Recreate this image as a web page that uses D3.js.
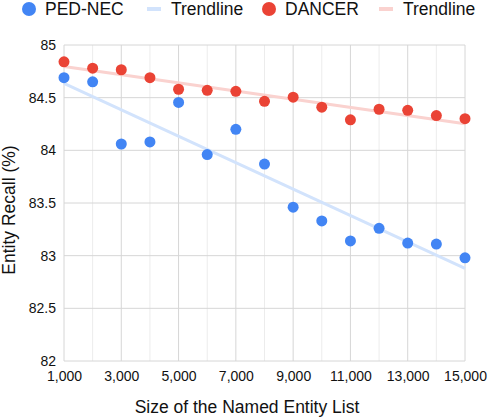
<!DOCTYPE html>
<html>
<head>
<meta charset="utf-8">
<script src="https://cdn.jsdelivr.net/npm/d3@7"></script>
<style>
  body { margin: 0; background: #fff; }
  svg { display: block; font-family: "Liberation Sans", Arial, Helvetica, sans-serif; }
</style>
</head>
<body>
<div id="chart"></div>
<script>
const sizes = [1000, 2000, 3000, 4000, 5000, 6000, 7000, 8000, 9000, 10000, 11000, 12000, 13000, 14000, 15000];
const pedNec = [84.69, 84.65, 84.06, 84.08, 84.455, 83.96, 84.2, 83.87, 83.46, 83.33, 83.14, 83.26, 83.12, 83.11, 82.98];
const dancer = [84.84, 84.78, 84.765, 84.69, 84.58, 84.57, 84.56, 84.465, 84.505, 84.41, 84.29, 84.39, 84.38, 84.33, 84.30];
const yTicks = [82, 82.5, 83, 83.5, 84, 84.5, 85];
const xTicks = [1000, 3000, 5000, 7000, 9000, 11000, 13000, 15000];

const W = 488, H = 420;
const margin = { top: 45, right: 23, bottom: 59, left: 64 };
const width = W - margin.left - margin.right;
const height = H - margin.top - margin.bottom;
const ink = "#111";

const series = [
  { name: "PED-NEC", values: pedNec, color: "#4285f4", trend: "#d2e3fc" },
  { name: "DANCER", values: dancer, color: "#ea4335", trend: "#fad2cf" }
];

const svg = d3.select("#chart")
  .append("svg")
  .attr("width", W)
  .attr("height", H);

const g = svg.append("g")
  .attr("transform", `translate(${margin.left},${margin.top})`);

const x = d3.scaleLinear().domain([1000, 15000]).range([0, width]);
const y = d3.scaleLinear().domain([82, 85]).range([height, 0]);

// gridlines: every 1000 on x (labelled ones darker), every 0.5 on y
g.append("g")
  .selectAll("line")
  .data(d3.range(2000, 15000, 2000))
  .join("line")
  .attr("x1", d => x(d)).attr("x2", d => x(d))
  .attr("y1", 0).attr("y2", height)
  .attr("stroke", "#ececec");

g.append("g")
  .selectAll("line")
  .data(xTicks)
  .join("line")
  .attr("x1", d => x(d)).attr("x2", d => x(d))
  .attr("y1", 0).attr("y2", height)
  .attr("stroke", "#d6d6d6");

g.append("g")
  .selectAll("line")
  .data(yTicks)
  .join("line")
  .attr("x1", 0).attr("x2", width)
  .attr("y1", d => y(d)).attr("y2", d => y(d))
  .attr("stroke", "#d6d6d6");

// axes (text only)
const xAxis = g.append("g")
  .attr("transform", `translate(0,${height})`)
  .call(d3.axisBottom(x).tickValues(xTicks).tickFormat(d3.format(",")).tickSize(0).tickPadding(10));
const yAxis = g.append("g")
  .call(d3.axisLeft(y).tickValues(yTicks).tickFormat(d3.format("")).tickSize(0).tickPadding(8));
[xAxis, yAxis].forEach(a => {
  a.attr("font-family", null);
  a.select(".domain").remove();
  a.selectAll("text").attr("font-size", 14).attr("fill", ink);
});

// linear trendlines (least squares on the plotted points)
function fit(vals) {
  const mx = d3.mean(sizes), my = d3.mean(vals);
  const b = d3.sum(sizes, (s, i) => (s - mx) * (vals[i] - my)) / d3.sum(sizes, s => (s - mx) ** 2);
  return s => my + b * (s - mx);
}

series.forEach(s => {
  const f = fit(s.values);
  g.append("line")
    .attr("x1", x(1000)).attr("y1", y(f(1000)))
    .attr("x2", x(15000)).attr("y2", y(f(15000)))
    .attr("stroke", s.trend)
    .attr("stroke-width", 3);
});

series.forEach(s => {
  g.append("g")
    .selectAll("circle")
    .data(s.values)
    .join("circle")
    .attr("cx", (d, i) => x(sizes[i]))
    .attr("cy", d => y(d))
    .attr("r", 5.5)
    .attr("fill", s.color);
});

// axis titles
svg.append("text")
  .attr("x", 247)
  .attr("y", 413)
  .attr("text-anchor", "middle")
  .attr("font-size", 17.5)
  .attr("fill", ink)
  .text("Size of the Named Entity List");

svg.append("text")
  .attr("transform", "translate(15,210) rotate(-90)")
  .attr("text-anchor", "middle")
  .attr("font-size", 17.5)
  .attr("fill", ink)
  .text("Entity Recall (%)");

// legend
const legend = [
  { label: "PED-NEC", color: "#4285f4", type: "dot", x: 29 },
  { label: "Trendline", color: "#d2e3fc", type: "line", x: 147 },
  { label: "DANCER", color: "#ea4335", type: "dot", x: 269 },
  { label: "Trendline", color: "#fad2cf", type: "line", x: 379 }
];
const lg = svg.append("g");
legend.forEach(l => {
  if (l.type === "dot") {
    lg.append("circle").attr("cx", l.x).attr("cy", 9).attr("r", 7).attr("fill", l.color);
  } else {
    lg.append("line").attr("x1", l.x).attr("x2", l.x + 14).attr("y1", 9).attr("y2", 9)
      .attr("stroke", l.color).attr("stroke-width", 4);
  }
  lg.append("text")
    .attr("x", l.type === "dot" ? l.x + 16 : l.x + 24)
    .attr("y", 15)
    .attr("font-size", 17.5)
    .attr("fill", ink)
    .text(l.label);
});
</script>
</body>
</html>
